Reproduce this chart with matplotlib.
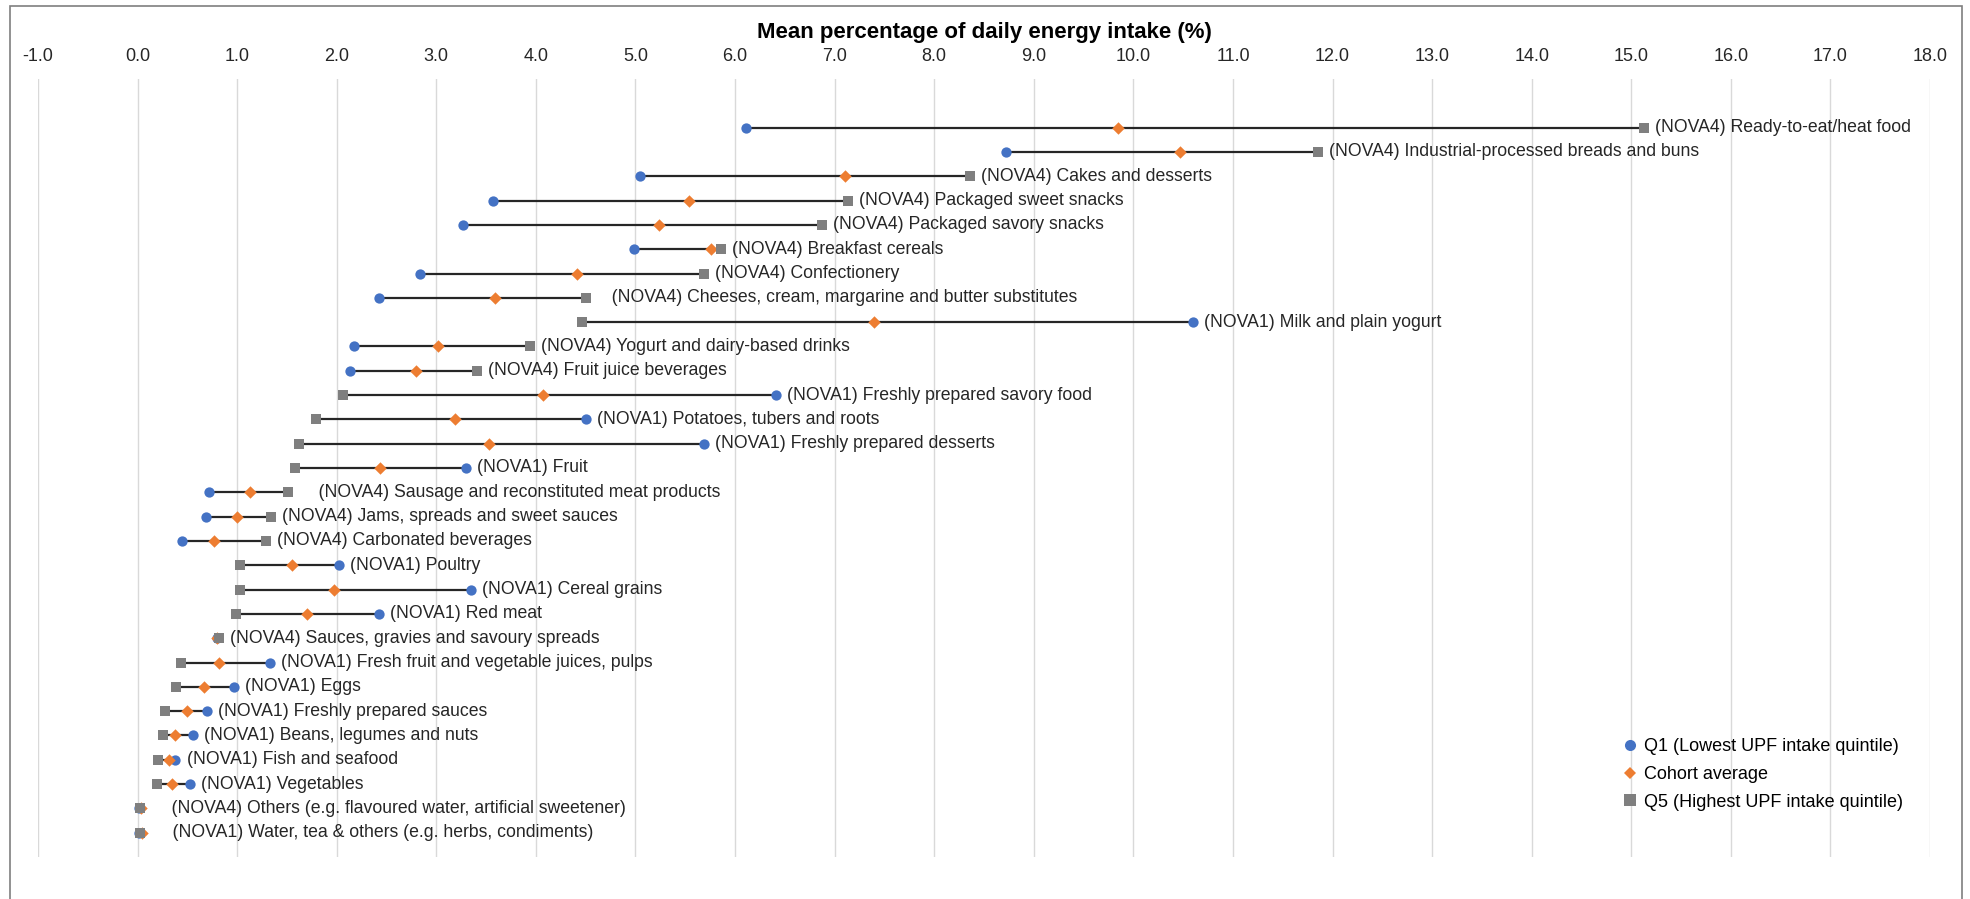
import matplotlib
matplotlib.use('Agg')
import matplotlib.pyplot as plt
from matplotlib.lines import Line2D

plt.rcParams['font.family'] = ['Liberation Sans', 'DejaVu Sans']

# food groups, top to bottom
labels = [
    '(NOVA4) Ready-to-eat/heat food',
    '(NOVA4) Industrial-processed breads and buns',
    '(NOVA4) Cakes and desserts',
    '(NOVA4) Packaged sweet snacks',
    '(NOVA4) Packaged savory snacks',
    '(NOVA4) Breakfast cereals',
    '(NOVA4) Confectionery',
    '   (NOVA4) Cheeses, cream, margarine and butter substitutes',
    '(NOVA1) Milk and plain yogurt',
    '(NOVA4) Yogurt and dairy-based drinks',
    '(NOVA4) Fruit juice beverages',
    '(NOVA1) Freshly prepared savory food',
    '(NOVA1) Potatoes, tubers and roots',
    '(NOVA1) Freshly prepared desserts',
    '(NOVA1) Fruit',
    '    (NOVA4) Sausage and reconstituted meat products',
    '(NOVA4) Jams, spreads and sweet sauces',
    '(NOVA4) Carbonated beverages',
    '(NOVA1) Poultry',
    '(NOVA1) Cereal grains',
    '(NOVA1) Red meat',
    '(NOVA4) Sauces, gravies and savoury spreads',
    '(NOVA1) Fresh fruit and vegetable juices, pulps',
    '(NOVA1) Eggs',
    '(NOVA1) Freshly prepared sauces',
    '(NOVA1) Beans, legumes and nuts',
    '(NOVA1) Fish and seafood',
    '(NOVA1) Vegetables',
    '    (NOVA4) Others (e.g. flavoured water, artificial sweetener)',
    '    (NOVA1) Water, tea & others (e.g. herbs, condiments)',
]

q1 = [6.11, 8.72, 5.05, 3.57, 3.27, 4.99, 2.84, 2.42, 10.60, 2.17,
      2.13, 6.41, 4.50, 5.69, 3.30, 0.72, 0.69, 0.45, 2.02, 3.35,
      2.42, 0.80, 1.33, 0.97, 0.70, 0.56, 0.38, 0.53, 0.01, 0.01]
avg = [9.85, 10.47, 7.10, 5.54, 5.24, 5.76, 4.41, 3.59, 7.40, 3.02,
       2.80, 4.07, 3.19, 3.53, 2.43, 1.13, 1.00, 0.77, 1.55, 1.97,
       1.70, 0.80, 0.82, 0.67, 0.50, 0.38, 0.32, 0.35, 0.03, 0.04]
q5 = [15.13, 11.85, 8.36, 7.13, 6.87, 5.86, 5.69, 4.50, 4.46, 3.94,
      3.41, 2.06, 1.79, 1.62, 1.58, 1.51, 1.34, 1.29, 1.03, 1.03,
      0.99, 0.82, 0.44, 0.39, 0.28, 0.26, 0.21, 0.20, 0.02, 0.02]

xticks = [x for x in range(-1, 19)]

blue = '#4472C4'
orange = '#ED7D31'
grey = '#7F7F7F'

fig = plt.figure(figsize=(19.70, 8.99), dpi=100)
ax = fig.add_axes([38 / 1970, 1 - 857 / 899, (1930 - 38) / 1970, (857 - 79) / 899])

ypos = list(range(1, len(labels) + 1))
for y, a, b, c, lab in zip(ypos, q1, avg, q5, labels):
    lo, hi = min(a, b, c), max(a, b, c)
    ax.plot([lo, hi], [y, y], color='#262626', lw=1.6, zorder=2)
    ax.annotate(lab, (hi, y), xytext=(8, 0), textcoords='offset points',
                va='center', ha='left', fontsize=12.7, color='#262626')

ax.scatter(q1, ypos, marker='o', s=55, color=blue, zorder=3, linewidths=0)
ax.scatter(avg, ypos, marker='D', s=40, color=orange, zorder=4, linewidths=0)
ax.scatter(q5, ypos, marker='s', s=55, color=grey, zorder=5, linewidths=0)

ax.set_xlim(-1, 18)
ax.set_ylim(len(labels) + 1, -1)
ax.set_xticks(xticks)
ax.set_xticklabels([f'{x:.1f}' for x in xticks], fontsize=13, color='#262626')
ax.xaxis.tick_top()
ax.xaxis.set_label_position('top')
ax.tick_params(axis='x', length=0, pad=10)
ax.set_yticks([])
ax.grid(axis='x', color='#D9D9D9', lw=1)
ax.set_axisbelow(True)
for s in ax.spines.values():
    s.set_visible(False)
ax.set_xlabel('Mean percentage of daily energy intake (%)', fontsize=16,
              fontweight='bold', labelpad=7)

handles = [
    Line2D([], [], marker='o', ls='none', color=blue, markersize=8, markeredgewidth=0),
    Line2D([], [], marker='D', ls='none', color=orange, markersize=6.5, markeredgewidth=0),
    Line2D([], [], marker='s', ls='none', color=grey, markersize=8, markeredgewidth=0),
]
fig.legend(handles, ['Q1 (Lowest UPF intake quintile)', 'Cohort average',
                     'Q5 (Highest UPF intake quintile)'],
           loc='upper left', bbox_to_anchor=(1612 / 1970, 1 - 729 / 899),
           frameon=False, fontsize=13, handletextpad=0.3, labelspacing=0.6,
           handlelength=1.0, borderpad=0)

# chart border
fig.patches.append(plt.Rectangle((10 / 1970, -0.01), (1962 - 10) / 1970, 1 - 6 / 899 + 0.01,
                                 transform=fig.transFigure, fill=False,
                                 edgecolor='#7F7F7F', lw=1.2))

fig.savefig('out.png', dpi=100, facecolor='white')
